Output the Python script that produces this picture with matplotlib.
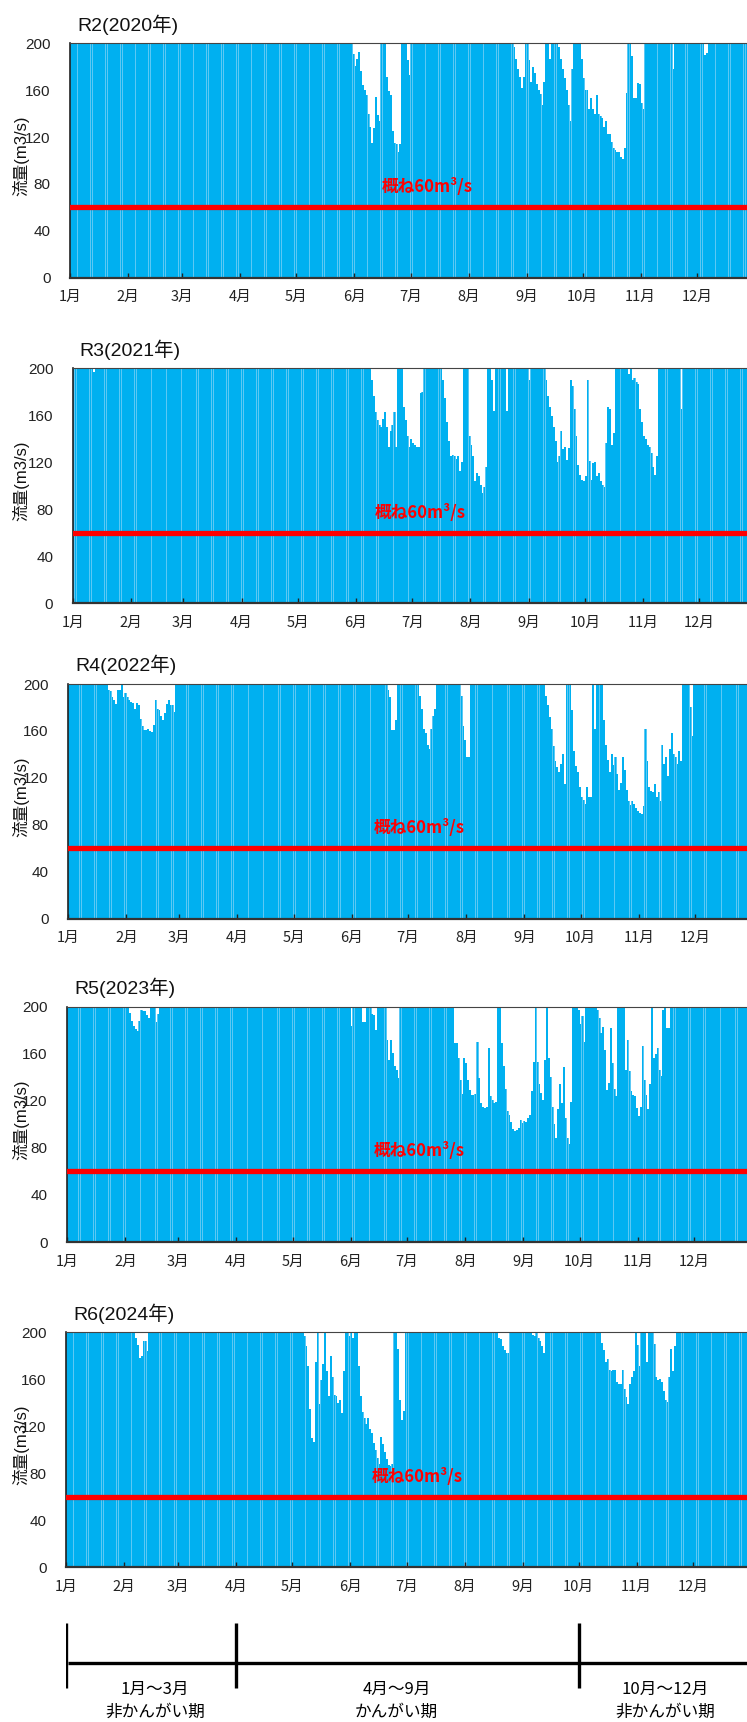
"""
Daily river flow, R2-R6 (2020-2024), with the ~60 m3/s line and an
irrigation-period timeline underneath. Bars are clipped at 200 m3/s.
"""
import numpy as np
import matplotlib
matplotlib.use("Agg")
import matplotlib.pyplot as plt

# ---------- colours / fonts ----------
BAR_BLUE = "#00B0F0"
GAP_BLUE = "#5CC8F4"
RED = "#FF0000"
AXIS_DARK = "#222222"
JP = ["Noto Sans CJK JP", "DejaVu Sans"]
LAT_JP = ["Liberation Sans", "Noto Sans CJK JP", "DejaVu Sans"]

# ---------- data ----------
years = [2020, 2021, 2022, 2023, 2024]
titles = ["R2(2020年)", "R3(2021年)", "R4(2022年)", "R5(2023年)", "R6(2024年)"]
month_labels = [f"{m}月" for m in range(1, 13)]
y_ticks = [0, 40, 80, 120, 160, 200]
y_cap = 200          # axis top; days at or above it are drawn full height
threshold = 60       # 概ね60m3/s

# days that fall below the 200 cap: (first day-of-year index, daily values)
dips_2020 = [
    (150, [200, 191, 181, 187, 193, 176, 164, 160, 156, 140, 129, 115, 128, 154,
           139, 134, 200, 200, 200, 171, 159, 156, 125, 115, 114, 107, 114, 200,
           200, 200, 186, 173]),
    (237, [197, 187, 178, 171, 162, 171, 200, 200, 186, 167, 180, 175, 165, 160,
           157, 147, 167, 200, 200, 187, 200, 200, 200, 200, 197, 187, 178, 170,
           160, 147, 134, 178]),
    (273, [187, 170, 160, 160, 144, 153, 144, 140, 156, 140, 138, 136, 129, 134,
           123, 123, 116, 111, 109, 107, 107, 103, 101, 111, 158, 200, 200, 189,
           153, 153, 166, 165, 149, 144]),
    (322, [178]),
    (339, [190, 192]),
]
dips_2021 = [
    (11, [197]),
    (159, [190, 176, 163, 156, 152, 150, 157, 163, 150, 133, 147, 152, 163, 133,
           200, 200, 200, 167, 156, 142, 133, 140, 136, 135, 133, 133, 179, 180]),
    (197, [190, 175, 154, 138, 125, 126, 125, 123, 125, 113, 120, 200, 200, 200,
           142, 135, 125, 104, 111, 108, 101, 94, 99, 116, 200, 200, 190, 164]),
    (231, [164]),
    (243, [190]),
    (252, [190, 176, 167, 159, 150, 138, 120, 125, 147, 131, 133, 122, 132, 190,
           185, 165, 142, 118, 109, 105, 104, 108, 190, 121, 105, 119, 120, 108,
           111, 104, 101, 99, 136, 167, 165, 135, 145]),
    (296, [195, 200, 190, 192, 188, 187, 165, 154, 142, 140, 135, 133, 128, 116,
           109, 125]),
    (324, [165]),
]
dips_2022 = [
    (21, [195, 194, 189, 186, 183, 195, 195, 200, 189, 192, 189, 186, 185, 184,
          179, 184, 182, 170, 164, 161, 161, 162, 160, 159, 165, 186, 179, 178,
          173, 169, 175, 183, 186, 182, 182, 176]),
    (170, [195, 189, 161, 161, 169]),
    (187, [190, 179, 162, 158, 148, 145, 162, 173, 179]),
    (209, [190, 164, 152, 138, 138]),
    (254, [190, 182, 172, 162, 147, 134, 129, 125, 132, 140, 115, 200, 200, 200,
           178, 143, 130, 125, 112, 104, 101, 98, 112, 104, 104, 200, 162, 200,
           200, 200, 200, 169, 148, 135, 125, 140, 131, 138, 123, 110, 116, 138,
           127, 110, 100, 97, 100, 98, 94, 92, 90, 89, 96, 162, 134, 112,
           109, 108, 115, 104, 108, 100, 148, 132, 138, 122, 145, 158, 140, 138,
           132, 143, 134, 200, 200, 200, 200, 180, 156]),
]
dips_2023 = [
    (31, [199, 200, 195, 188, 184, 181, 179, 188, 197, 196, 196, 193, 190, 200,
          200, 200, 187, 194]),
    (151, [184]),
    (157, [187, 187]),
    (162, [194, 193, 180]),
    (170, [172, 155, 172, 161, 150, 146, 139]),
    (206, [169, 169, 156, 138, 126, 156, 152, 138, 129, 125, 125, 126, 170, 139,
           118, 115, 114, 115, 165, 124, 121, 118, 119, 200, 200]),
    (231, [169, 150, 130, 111, 108, 102, 96, 94, 95, 97, 104, 101, 103, 102,
           105, 108, 128, 153, 200, 153, 134, 127, 121, 155, 200]),
    (256, [156, 140, 115, 100, 88, 113, 134, 118, 149, 105, 88, 83, 119, 200,
           200, 200, 197, 185, 192, 170]),
    (282, [197, 190, 178, 183, 163, 129, 135, 182, 152, 130, 124, 200, 200, 200,
           200, 146, 172, 145, 128, 125, 124, 114, 107, 115, 167, 138, 125, 113,
           134, 200, 156, 160, 165, 146, 141, 197, 200, 182, 182]),
]
dips_2024 = [
    (37, [195, 189, 178, 180, 193, 193, 184]),
    (127, [197, 188, 171, 135, 110, 107, 175, 200, 139, 159, 173, 200, 167, 146,
           180, 162, 147, 146, 140, 142, 131, 167, 200, 200, 197, 200, 195, 200,
           200, 171, 146, 132, 127, 122, 127, 118, 114, 106, 100, 93, 88, 111,
           105, 98, 92, 87, 86, 88, 200, 200, 186, 142, 125, 133]),
    (231, [195, 194, 188, 185, 182, 182]),
    (249, [198, 197, 200, 195, 193, 188, 182]),
    (279, [199]),
    (286, [191, 185, 175, 177, 168, 167, 168, 168, 158, 156, 156, 168, 152, 145,
           139, 156, 162, 167, 200, 189, 171, 200, 200, 200, 175, 200, 200, 200,
           190, 162, 159, 160, 158, 150, 142, 141, 162, 186, 167, 188]),
]
all_dips = [dips_2020, dips_2021, dips_2022, dips_2023, dips_2024]

# timeline under the charts
period_labels = [("1月～3月", "非かんがい期"), ("4月～9月", "かんがい期"),
                 ("10月～12月", "非かんがい期")]

# ---------- layout (pixels of the 747x1722 canvas) ----------
W, H = 747, 1722
# left edge, top, bottom, pixels per day
panels = [(70.0, 43.3, 277.7, 1.871),
          (72.7, 368.3, 603.3, 1.876),
          (68.3, 684.0, 918.7, 1.877),
          (67.3, 1006.7, 1242.0, 1.877),
          (66.0, 1332.3, 1567.3, 1.871)]
note_day = [166.8, 161.0, 162.5, 163.0, 163.4]
note_val = [77.5, 77.0, 77.0, 77.0, 76.5]


def month_starts(year):
    leap = year % 4 == 0
    dim = [31, 29 if leap else 28, 31, 30, 31, 30, 31, 31, 30, 31, 30, 31]
    return np.concatenate([[0], np.cumsum(dim)[:-1]]), sum(dim)


def daily_series(n_days, dips):
    flow = np.full(n_days, float(y_cap))
    for start, vals in dips:
        flow[start:start + len(vals)] = vals
    return flow


def px_axes(fig, left, top, bottom, width):
    return fig.add_axes([left / W, 1 - bottom / H, width / W, (bottom - top) / H])


fig = plt.figure(figsize=(W / 100, H / 100), dpi=100)
fig.patch.set_facecolor("white")

for i, year in enumerate(years):
    left, top, bottom, ppd = panels[i]
    starts, n_days = month_starts(year)
    flow = daily_series(n_days, all_dips[i])
    days = np.arange(n_days) + 0.5

    ax = px_axes(fig, left, top, bottom, n_days * ppd)
    # slightly overlapping pale layer underneath: the snapped gaps of the
    # blue bars then read as light lines, as in the original
    ax.bar(days, flow, width=1.15, color=GAP_BLUE, linewidth=0, zorder=1)
    ax.bar(days, flow, width=0.88, color=BAR_BLUE, linewidth=0, zorder=1.1)
    ax.axhline(threshold, color=RED, linewidth=3.8, zorder=3)

    ax.set_xlim(0, n_days)
    ax.set_ylim(0, y_cap)
    ax.set_xticks(starts)
    ax.set_xticklabels(month_labels, fontsize=10.5, family=JP, color=AXIS_DARK)
    ax.set_yticks(y_ticks)
    ax.set_yticklabels([str(t) for t in y_ticks], fontsize=11,
                       family=LAT_JP, color=AXIS_DARK)
    ax.tick_params(axis="x", direction="in", length=3.5, width=1.0,
                   color=AXIS_DARK, pad=9)
    ax.tick_params(axis="y", length=0, pad=14)

    ax.spines["right"].set_visible(False)
    ax.spines["left"].set_color(AXIS_DARK)
    ax.spines["left"].set_linewidth(1.2)
    ax.spines["bottom"].set_color("#333333")
    ax.spines["bottom"].set_linewidth(1.6)
    ax.spines["top"].set_color("#444444")
    ax.spines["top"].set_linewidth(0.8)

    ax.text(note_day[i], note_val[i], "概ね60m³/s", color=RED, fontsize=12,
            fontweight="bold", family=JP, ha="left", va="center", zorder=4)

    fig.text((left + 7) / W, 1 - (top - 19) / H, titles[i], fontsize=14,
             family=LAT_JP, ha="left", va="center", color="#111111")
    fig.text(21 / W, 1 - ((top + bottom) / 2 - 5) / H, "流量(m3/s)",
             rotation=90, fontsize=12, family=LAT_JP, ha="center",
             va="center", color="#111111")

# ---------- irrigation period timeline ----------
left, top, bottom, ppd = panels[-1]
starts, n_days = month_starts(years[-1])
tl = px_axes(fig, left, 1600, 1722, n_days * ppd)
tl.set_xlim(0, n_days)
tl.set_ylim(1722, 1600)          # y runs in canvas pixels, downwards
tl.axis("off")
bounds = [starts[0], starts[3], starts[9]]
tl.hlines(1663, bounds[0] + 1, n_days, color="black", linewidth=2.4)
tl.vlines(bounds, 1623, 1688, color="black", linewidth=2.4)
label_days = [47.5, 176.6, 320.0]
for (top_txt, bot_txt), xd in zip(period_labels, label_days):
    tl.text(xd, 1689, top_txt, fontsize=12, family=JP, ha="center", va="center")
    tl.text(xd, 1712, bot_txt, fontsize=12, family=JP, ha="center", va="center")

fig.savefig("out.png", dpi=100, facecolor="white")
